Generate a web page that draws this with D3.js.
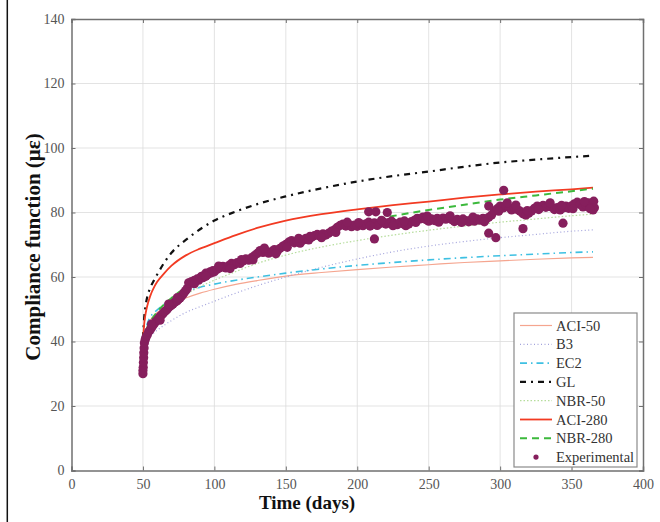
<!DOCTYPE html>
<html>
<head>
<meta charset="utf-8">
<script src="https://cdn.jsdelivr.net/npm/d3@7"></script>
<style>
  body { margin: 0; background: #fff; }
  svg { display: block; }
</style>
</head>
<body>
<div id="chart"></div>
<script>
// model curves share one set of days
var modelDays = [50, 51, 52, 53, 55, 58, 60, 65, 70, 80, 90, 100, 115, 130, 150, 175, 200, 225, 250, 275, 300, 325, 350, 365];

var aci50  = [40, 42.2, 43.5, 44.8, 46.5, 48.2, 49, 50.6, 51.8, 53.5, 55, 56.2, 57.7, 58.9, 60.3, 61.4, 62.3, 63.1, 63.8, 64.5, 65, 65.5, 65.9, 66.1];
var b3     = [37, 38.5, 39.6, 40.4, 41.5, 42.8, 43.5, 45.1, 46.5, 49, 50.8, 52.5, 55, 57.3, 60, 63, 65.6, 67.8, 69.6, 71, 72.2, 73.2, 74.2, 74.6];
var ec2    = [40, 42.5, 44, 45.5, 47.5, 49, 49.8, 51.6, 53, 55.3, 56.8, 57.8, 59, 60, 61.2, 62.5, 63.6, 64.5, 65.3, 66, 66.6, 67.1, 67.6, 67.8];
var gl     = [41, 48, 51.5, 53.8, 56.5, 59.2, 60.8, 64.5, 67.5, 71.5, 74.8, 77.5, 80.3, 82.6, 85, 87.5, 89.6, 91.3, 92.7, 94.2, 95.5, 96.4, 97.2, 97.6];
var nbr50  = [40, 41.2, 42, 42.8, 44.5, 46.5, 47.5, 49.6, 51.5, 54.5, 57, 59, 61.7, 64.2, 66.8, 69.3, 71.3, 73, 74.5, 75.8, 77, 78, 79, 79.5];
var aci280 = [40, 46, 49, 51, 54, 57, 58.5, 61.2, 63.5, 66.7, 68.8, 70.5, 73, 75.2, 77.5, 79.5, 81, 82.3, 83.4, 84.6, 85.6, 86.5, 87.2, 87.7];
var nbr280 = [40, 41.5, 43, 44.2, 46, 48, 49.2, 51.6, 53.5, 56.8, 59.6, 62, 64.8, 67.4, 70.4, 73.8, 76.6, 78.9, 80.8, 82.4, 84, 85.3, 86.6, 87.4];

// experimental points [day, value]
var experimental = [
  [50, 30], [50, 31], [50.2, 32], [50.3, 33.5], [50.5, 35], [50.6, 36.5], [50.8, 38], [51, 39.5],
  [51.5, 40.5], [52, 41.2], [53, 42], [54, 43], [55, 43.6], [56, 44.3], [57, 45], [58, 45.6],
  [59, 46.2], [60, 46.7], [61, 47.1], [62, 47.8], [63, 48.2], [64, 48.6], [65, 49.2], [66, 49.5],
  [67, 50], [68, 50.6], [69, 50.9], [70, 51.3], [71, 51.6], [72, 52.1], [73, 52.4], [74, 52.6],
  [75, 53.2], [76, 53.5], [77, 54.1], [78, 54.6], [79, 55.3], [80, 55.8], [81, 56.4], [82, 58.2],
  [83, 58.0], [84, 58.6], [85, 58.3], [86, 59.0], [87, 58.8], [88, 59.4], [89, 59.0], [90, 59.7],
  [91, 60.2], [92, 59.8], [93, 60.5], [94, 61.2], [95, 60.7], [96, 61.0], [97, 61.6], [98, 61.3],
  [99, 62.0], [100, 61.6], [102, 62.4], [104, 62.9], [106, 63.3], [108, 62.8], [110, 63.5], [112, 64.2],
  [114, 63.8], [116, 64.5], [118, 64.2], [120, 65.0], [122, 65.6], [124, 65.2], [126, 66.0], [128, 66.6],
  [130, 67.3], [132, 68.2], [134, 67.6], [136, 68.0], [138, 67.4], [140, 67.9], [142, 68.5], [144, 68.0],
  [146, 68.9], [148, 69.6], [150, 70.1], [152, 70.8], [154, 71.3], [156, 70.6], [158, 71.0], [160, 70.5],
  [162, 71.4], [164, 72.0], [166, 71.5], [168, 72.3], [170, 72.8], [172, 73.2], [174, 72.7], [176, 73.4],
  [178, 73.0], [180, 73.6], [182, 74.2], [184, 74.6], [186, 75.4], [188, 76.0], [190, 76.4], [192, 75.8],
  [194, 76.3], [196, 75.6], [198, 76.1], [200, 75.7], [202, 76.4], [204, 75.9], [206, 76.5], [208, 77.0],
  [210, 76.3], [212, 76.8], [214, 76.0], [216, 76.6], [218, 77.1], [220, 76.4], [222, 76.9], [224, 77.3],
  [226, 76.6], [228, 76.2], [230, 77.0], [232, 76.5], [234, 75.9], [236, 76.4], [238, 77.2], [240, 77.6],
  [242, 78.2], [244, 78.0], [246, 78.6], [248, 77.8], [250, 77.3], [252, 78.0], [254, 77.5], [256, 78.2],
  [258, 77.6], [260, 78.3], [262, 77.9], [264, 78.5], [266, 77.8], [268, 77.2], [270, 77.9], [272, 77.4],
  [274, 78.0], [276, 77.5], [278, 77.1], [280, 77.8], [282, 77.3], [284, 78.0], [286, 77.6], [288, 78.2],
  [290, 77.9], [292, 78.5], [294, 79.2], [296, 80.5], [298, 81.2], [300, 82.0], [302, 81.4], [304, 82.3],
  [306, 81.6], [308, 80.8], [310, 81.5], [312, 80.9], [314, 80.4], [316, 79.6], [318, 79.2], [320, 79.8],
  [322, 80.5], [324, 81.3], [326, 82.0], [328, 81.5], [330, 82.2], [332, 81.6], [334, 82.4], [336, 81.7],
  [338, 80.9], [340, 81.5], [342, 80.8], [344, 81.4], [346, 82.0], [348, 81.3], [350, 82.1], [352, 82.7],
  [354, 83.2], [356, 82.5], [358, 81.7], [360, 82.4], [362, 83.0], [364, 82.2], [365, 80.8], [365.5, 83.5], [366, 81.5],
  // second pass of readings (scatter within the band)
  [56, 45.4], [62, 46.6], [68, 51.6], [74, 53.6], [86, 57.9], [94, 60.2], [103, 63.4], [111, 62.6],
  [119, 65.4], [127, 65.3], [135, 69.0], [143, 67.2], [151, 69.2], [159, 72.0], [167, 72.6], [175, 72.2],
  [185, 73.8], [193, 77.0], [201, 76.9], [209, 75.8], [217, 77.6], [225, 75.9], [233, 77.4], [241, 76.9],
  [249, 78.9], [257, 77.0], [265, 79.0], [273, 76.9], [281, 78.6], [289, 77.1], [299, 80.4], [305, 83.0],
  [311, 82.3], [319, 80.6], [327, 80.9], [335, 83.0], [343, 82.2], [351, 81.2], [359, 83.4], [363, 81.2],
  // scattered readings
  [208, 80.2], [213, 80.2], [221, 80.0], [212, 71.8], [302.5, 86.9], [292, 82], [292, 73.6],
  [297, 72.2], [316, 75.0], [344, 76.7]
];

var xTicks = [0, 50, 100, 150, 200, 250, 300, 350, 400];
var yTicks = [0, 20, 40, 60, 80, 100, 120, 140];

var series = [
  { name: "ACI-50",  values: aci50,  color: "#f5a58f", width: 1.2, dash: null },
  { name: "B3",      values: b3,     color: "#a3a3dc", width: 1.2, dash: "1,2.5" },
  { name: "EC2",     values: ec2,    color: "#3ec0e2", width: 1.6, dash: "7,4,1.5,4" },
  { name: "GL",      values: gl,     color: "#111111", width: 2.2, dash: "6,5,2,5" },
  { name: "NBR-50",  values: nbr50,  color: "#b6dd9c", width: 1.2, dash: "1.5,2" },
  { name: "ACI-280", values: aci280, color: "#f23a22", width: 1.8, dash: null },
  { name: "NBR-280", values: nbr280, color: "#3cb93c", width: 2, dash: "7,5" }
];

var svgWidth = 660;
var svgHeight = 522;

var margin = { top: 19, right: 17, bottom: 51.5, left: 71.5 };
var width = svgWidth - margin.left - margin.right;
var height = svgHeight - margin.top - margin.bottom;

var svg = d3.select("#chart")
  .append("svg")
  .attr("width", svgWidth)
  .attr("height", svgHeight)
  .style("font-family", "'Liberation Serif', 'DejaVu Serif', serif");

// left page border
svg.append("line")
  .attr("x1", 7.3).attr("x2", 7.3)
  .attr("y1", 0).attr("y2", svgHeight)
  .attr("stroke", "#111")
  .attr("stroke-width", 1.5);

var chartGroup = svg.append("g")
  .attr("transform", `translate(${margin.left}, ${margin.top})`);

var xScale = d3.scaleLinear().domain([0, 400]).range([0, width]);
var yScale = d3.scaleLinear().domain([0, 140]).range([height, 0]);

// grid
chartGroup.append("g")
  .selectAll("line")
  .data(xTicks.slice(1, -1))
  .enter()
  .append("line")
  .attr("x1", d => xScale(d)).attr("x2", d => xScale(d))
  .attr("y1", 0).attr("y2", height)
  .attr("stroke", "#dcdcdc")
  .attr("stroke-width", 0.8);

chartGroup.append("g")
  .selectAll("line")
  .data(yTicks.slice(1, -1))
  .enter()
  .append("line")
  .attr("x1", 0).attr("x2", width)
  .attr("y1", d => yScale(d)).attr("y2", d => yScale(d))
  .attr("stroke", "#dcdcdc")
  .attr("stroke-width", 0.8);

// axes (ticks inward, MATLAB style)
var bottomAxis = d3.axisBottom(xScale).tickValues(xTicks).tickSize(-4).tickPadding(9);
var leftAxis = d3.axisLeft(yScale).tickValues(yTicks).tickSize(-4).tickPadding(7);
var topAxis = d3.axisTop(xScale).tickValues(xTicks).tickSize(-4).tickFormat("");
var rightAxis = d3.axisRight(yScale).tickValues(yTicks).tickSize(-4).tickFormat("");

var axes = [
  chartGroup.append("g").attr("transform", `translate(0, ${height})`).call(bottomAxis),
  chartGroup.append("g").call(leftAxis),
  chartGroup.append("g").call(topAxis),
  chartGroup.append("g").attr("transform", `translate(${width}, 0)`).call(rightAxis)
];

axes.forEach(function(a) {
  a.select(".domain").attr("stroke", "#707070").attr("stroke-width", 1.5);
  a.selectAll(".tick line").attr("stroke", "#707070");
  a.selectAll("text")
    .style("font-family", "'Liberation Serif', serif")
    .style("font-size", "14px")
    .attr("fill", "#555");
});

// model curves
var line = d3.line()
  .x(d => xScale(d[0]))
  .y(d => yScale(d[1]))
  .curve(d3.curveMonotoneX);

series.forEach(function(s) {
  chartGroup.append("path")
    .datum(modelDays.map((d, i) => [d, s.values[i]]))
    .attr("fill", "none")
    .attr("stroke", s.color)
    .attr("stroke-width", s.width)
    .attr("stroke-dasharray", s.dash)
    .attr("d", line);
});

// experimental points
chartGroup.append("g")
  .selectAll("circle")
  .data(experimental)
  .enter()
  .append("circle")
  .attr("cx", d => xScale(d[0]))
  .attr("cy", d => yScale(d[1]))
  .attr("r", 4.6)
  .attr("fill", "#861f5d");

// legend
var legend = svg.append("g").attr("transform", "translate(514, 313)");

legend.append("rect")
  .attr("width", 123)
  .attr("height", 154)
  .attr("fill", "#fff")
  .attr("stroke", "#8a8a8a")
  .attr("stroke-width", 1.2);

var legendItems = series.map(s => s).concat([{ name: "Experimental", marker: true }]);

legendItems.forEach(function(s, i) {
  var y = 12.5 + i * 18.8;
  if (s.marker) {
    legend.append("circle")
      .attr("cx", 22).attr("cy", y)
      .attr("r", 2.6)
      .attr("fill", "#861f5d");
  } else {
    legend.append("line")
      .attr("x1", 6).attr("x2", 38)
      .attr("y1", y).attr("y2", y)
      .attr("stroke", s.color)
      .attr("stroke-width", s.width)
      .attr("stroke-dasharray", s.dash);
  }
  legend.append("text")
    .attr("x", 42)
    .attr("y", y)
    .attr("dy", "0.35em")
    .style("font-size", "14.5px")
    .attr("fill", "#333")
    .text(s.name);
});

// axis titles
svg.append("text")
  .attr("x", 307)
  .attr("y", 509)
  .attr("text-anchor", "middle")
  .style("font-size", "19px")
  .style("font-weight", "bold")
  .attr("fill", "#111")
  .text("Time (days)");

svg.append("text")
  .attr("transform", "translate(40, 247) rotate(-90)")
  .attr("text-anchor", "middle")
  .style("font-size", "21px")
  .style("font-weight", "bold")
  .attr("fill", "#111")
  .text("Compliance function (με)");
</script>
</body>
</html>
